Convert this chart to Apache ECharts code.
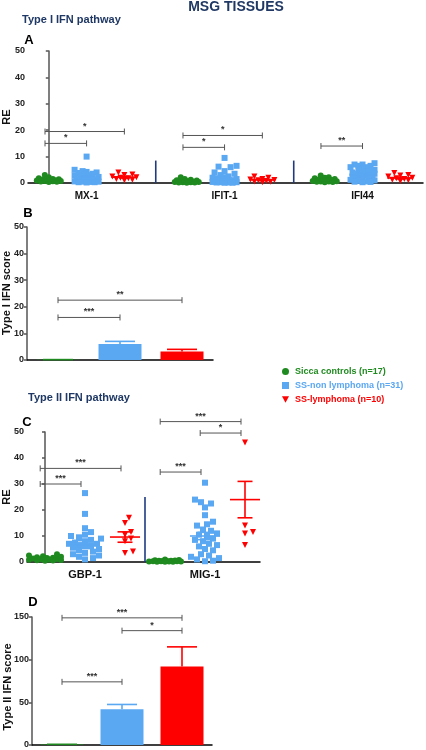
<!DOCTYPE html>
<html><head><meta charset="utf-8">
<script src="https://cdn.jsdelivr.net/npm/echarts@6/dist/echarts.min.js"></script>
<style>html,body{margin:0;padding:0;background:#fff}#c{width:426px;height:750px}</style>
</head><body><div id="c"></div>
<script>
// ---------- DATA ----------
const groupNames = ['Sicca controls (n=17)', 'SS-non lymphoma (n=31)', 'SS-lymphoma (n=10)'];
const genesA = ['MX-1', 'IFIT-1', 'IFI44'];
const genesC = ['GBP-1', 'MIG-1'];
const yTicksA = [0, 10, 20, 30, 40, 50];
const yTicksD = [0, 50, 100, 150];

// Panel A (RE), per gene: sicca, non-lymphoma, lymphoma
const mx1Sicca = [3, 2.2, 1.8, 1.5, 1.4, 1.3, 1.2, 1.1, 1.0, 1.0, 0.9, 0.8, 0.8, 0.7, 0.6, 0.5, 0.4];
const mx1NonLymph = [10, 5, 4.5, 4.2, 4, 3.8, 3.5, 3.2, 3, 2.8, 2.5, 2.3, 2, 1.8, 1.6, 1.5, 1.4, 1.3, 1.2, 1.1, 1, 0.9, 0.8, 0.7, 0.6, 0.5, 0.5, 0.4, 0.3, 0.3, 0.2];
const mx1Lymph = [4, 3.2, 3, 2.5, 2.2, 2, 1.8, 1.5, 1.2, 1];
const ifit1Sicca = [2.2, 1.5, 1.2, 1, 0.9, 0.8, 0.7, 0.6, 0.5, 0.5, 0.4, 0.4, 0.3, 0.3, 0.2, 0.2, 0.1];
const ifit1NonLymph = [9.5, 6.5, 6.2, 6, 4.5, 4, 3.5, 3, 2.5, 2.2, 2, 1.8, 1.5, 1.3, 1.2, 1, 1, 0.9, 0.8, 0.7, 0.6, 0.5, 0.5, 0.4, 0.4, 0.3, 0.3, 0.2, 0.2, 0.1, 0.1];
const ifit1Lymph = [2.5, 2, 1.5, 1.3, 1.1, 1, 0.8, 0.6, 0.5, 0.3];
const ifi44Sicca = [2.8, 2.2, 2, 1.8, 1.5, 1.3, 1.2, 1.1, 1, 0.9, 0.8, 0.7, 0.6, 0.6, 0.5, 0.4, 0.3];
const ifi44NonLymph = [7.5, 7, 7, 6.5, 6.5, 6, 6, 5.5, 5, 5, 4.5, 4.5, 4, 4, 3.5, 3.5, 3, 3, 2.8, 2.5, 2.2, 2, 1.8, 1.5, 1.2, 1, 0.8, 0.6, 0.5, 0.4, 0.3];
const ifi44Lymph = [3.8, 3, 2.8, 2.5, 2, 1.8, 1.5, 1.2, 1, 0.8];
const meansA = [[1.2, 2.2, 2.2], [0.7, 1.8, 1.2], [1.1, 3.0, 1.9]];
const semsA = [[0.2, 0.4, 0.3], [0.15, 0.4, 0.25], [0.2, 0.4, 0.35]];
const bracketsA = [ // [gene, fromGroup, toGroup, y, label]
  [0, 0, 1, 15, '*'], [0, 0, 2, 19.5, '*'],
  [1, 0, 1, 13.5, '*'], [1, 0, 2, 18, '*'],
  [2, 0, 1, 14, '**']
];
const sepHeightA = 8.5;

// Panel B (Type I IFN score)
const scoreI = [0.1, 6.0, 3.2];
const scoreIErr = [0.05, 1.0, 0.8];
const bracketsB = [[0, 1, 16, '***'], [0, 2, 22.5, '**']];

// Panel C (RE)
const gbp1Sicca = [3, 2.5, 2.2, 2, 1.8, 1.6, 1.5, 1.4, 1.3, 1.2, 1.1, 1, 0.9, 0.8, 0.7, 0.6, 0.5];
const gbp1NonLymph = [26.5, 18.5, 13, 11.5, 10.5, 10, 9.5, 9, 8.5, 8, 7.5, 7, 7, 6.5, 6, 6, 5.5, 5, 4.5, 4, 3.5, 3, 2.5, 2, 1.5, 1];
const gbp1Lymph = [17, 15, 11.5, 10.5, 9, 8, 4, 3.5];
const mig1Sicca = [1, 0.8, 0.7, 0.6, 0.5, 0.5, 0.4, 0.4, 0.3, 0.3, 0.3, 0.2, 0.2, 0.2, 0.1, 0.1, 0.1];
const mig1NonLymph = [30.5, 24, 23, 22.5, 21, 18, 15.5, 14.5, 14, 12.5, 12, 11, 10.5, 10, 9, 8.5, 8, 7, 6.5, 6, 5, 4.5, 3, 2.5, 2, 1.5, 1, 0.5, 0.3];
const mig1Lymph = [46, 14, 11.5, 11, 6.5];
const meansC = [[1.5, 7.2, 9.6], [0.4, 10.0, 24.0]];
const semsC = [[0.2, 1.0, 2.0], [0.1, 1.4, 7.0]];
const bracketsC = [
  [0, 0, 1, 30, '***'], [0, 0, 2, 36, '***'],
  [1, 0, 1, 34.6, '***'], [1, 0, 2, 54, '***'], [1, 1, 2, 49.6, '*']
];
const sepHeightC = 25;

// Panel D (Type II IFN score)
const scoreII = [0.6, 42, 92];
const scoreIIErr = [0.2, 5.5, 23];
const bracketsD = [[-0.15, 2, 149, '***'], [1, 2, 134, '*'], [-0.12, 1, 74, '***']];

// ---------- LAYOUT / STYLE ----------
const FONT = '"Liberation Sans", Arial, sans-serif';
const colors = ['#1f8a1f', '#5aa7f2', '#ff0000'];
const symbols = ['circle', 'rect', 'triangle'];
const symSize = [6, 6, 6];
const navy = '#1f3864';
const brkColor = '#555';

const valsA = [[mx1Sicca, mx1NonLymph, mx1Lymph], [ifit1Sicca, ifit1NonLymph, ifit1Lymph], [ifi44Sicca, ifi44NonLymph, ifi44Lymph]];
const valsC = [[gbp1Sicca, gbp1NonLymph, gbp1Lymph], [mig1Sicca, mig1NonLymph, mig1Lymph]];

const GA = {left: 28, top: 51, width: 395, height: 132, xmin: -0.55, xmax: 9.9, ymax: 50, step: 3.65};
const GB = {left: 27, top: 227, width: 186, height: 133};
const GC = {left: 27, top: 432, width: 233, height: 130, xmin: -0.45, xmax: 5.375, ymax: 50, step: 3};
const GD = {left: 32, top: 617, width: 180, height: 128};

function posA(g, k) { return g * GA.step + k; }
function posC(g, k) { return g * GC.step + k; }

// beeswarm layout (deterministic) : returns x offsets in axis units
function swarm(values, pxY, pxX, diam, maxHalf) {
  const order = values.map((v, i) => i).sort((a, b) => values[a] - values[b]);
  const placed = [];
  const off = new Array(values.length).fill(0);
  const cands = [0];
  for (let s = 2; s <= maxHalf; s += 2) { cands.push(s, -s); }
  order.forEach(i => {
    const y = values[i] * pxY;
    let best = 0, bestD = -1;
    for (const c of cands) {
      let minD = Infinity;
      for (const p of placed) {
        const d = Math.hypot(p[0] - c, p[1] - y);
        if (d < minD) minD = d;
      }
      if (minD >= diam) { best = c; bestD = Infinity; break; }
      if (minD > bestD + 0.5) { bestD = minD; best = c; }
    }
    placed.push([best, y]);
    off[i] = best / pxX;
  });
  return off;
}

const series = [];
function addScatter(vals, pos, G, xi, maxHalf) {
  const pxY = G.height / G.ymax;
  const pxX = G.width / (G.xmax - G.xmin);
  vals.forEach((grp, g) => grp.forEach((arr, k) => {
    const off = swarm(arr, pxY, pxX, symSize[k] + 0.5, maxHalf);
    series.push({
      type: 'scatter', name: groupNames[k], xAxisIndex: xi, yAxisIndex: xi,
      symbol: symbols[k], symbolSize: symSize[k], symbolRotate: k === 2 ? 180 : 0,
      itemStyle: {color: colors[k], opacity: 1},
      data: arr.map((v, i) => [pos(g, k) + off[i], v]), silent: true, z: 3
    });
  }));
}
addScatter(valsA, posA, GA, 0, 12);
addScatter(valsC, posC, GC, 2, 16);

// mean +/- SEM lines
function addMeans(means, sems, pos, xi, meanW, capW) {
  const data = [];
  means.forEach((row, g) => row.forEach((m, k) => data.push([pos(g, k), m, sems[g][k], k])));
  series.push({
    type: 'custom', xAxisIndex: xi, yAxisIndex: xi, clip: false, silent: true, z: 5,
    data: data,
    renderItem: (p, api) => {
      const d = data[p.dataIndex];
      const c = api.coord([d[0], d[1]]);
      const t = api.coord([d[0], d[1] + d[2]]);
      const b = api.coord([d[0], d[1] - d[2]]);
      const st = {stroke: colors[d[3]], lineWidth: 1.6};
      return {type: 'group', children: [
        {type: 'line', shape: {x1: c[0] - meanW / 2, y1: c[1], x2: c[0] + meanW / 2, y2: c[1]}, style: st},
        {type: 'line', shape: {x1: c[0], y1: t[1], x2: c[0], y2: b[1]}, style: st},
        {type: 'line', shape: {x1: c[0] - capW / 2, y1: t[1], x2: c[0] + capW / 2, y2: t[1]}, style: st},
        {type: 'line', shape: {x1: c[0] - capW / 2, y1: b[1], x2: c[0] + capW / 2, y2: b[1]}, style: st}
      ]};
    }
  });
}
addMeans(meansA, semsA, posA, 0, 26, 10);
addMeans(meansC, semsC, posC, 2, 30, 15);

// significance brackets
function addBrackets(items, xi) {
  series.push({
    type: 'custom', xAxisIndex: xi, yAxisIndex: xi, clip: false, silent: true, z: 4,
    data: items.map(b => [b[0], b[2]]),
    renderItem: (p, api) => {
      const b = items[p.dataIndex];
      const a = api.coord([b[0], b[2]]);
      const e = api.coord([b[1], b[2]]);
      const st = {stroke: brkColor, lineWidth: 1};
      return {type: 'group', children: [
        {type: 'line', shape: {x1: a[0], y1: a[1], x2: e[0], y2: e[1]}, style: st},
        {type: 'line', shape: {x1: a[0], y1: a[1] - 3, x2: a[0], y2: a[1] + 3}, style: st},
        {type: 'line', shape: {x1: e[0], y1: e[1] - 3, x2: e[0], y2: e[1] + 3}, style: st},
        {type: 'text', x: (a[0] + e[0]) / 2, y: a[1] - 1, style: {text: b[3], fill: '#333', font: 'bold 9px ' + FONT, textAlign: 'center', textVerticalAlign: 'bottom'}}
      ]};
    }
  });
}
addBrackets(bracketsA.map(b => [posA(b[0], b[1]) - 0.1, posA(b[0], b[2]), b[3], b[4]]), 0);
addBrackets(bracketsB, 1);
addBrackets(bracketsC.map(b => [posC(b[0], b[1]) - 0.12, posC(b[0], b[2]) - 0.1, b[3], b[4]]), 2);
addBrackets(bracketsD, 3);

// separators and gene labels
function addSepLabels(genes, pos, sepX, sepH, xi, font) {
  series.push({
    type: 'custom', xAxisIndex: xi, yAxisIndex: xi, clip: false, silent: true, z: 4,
    data: sepX.map(x => [x, sepH]),
    renderItem: (p, api) => {
      const a = api.coord([sepX[p.dataIndex], 0]);
      const e = api.coord([sepX[p.dataIndex], sepH]);
      return {type: 'line', shape: {x1: a[0], y1: a[1], x2: e[0], y2: e[1]}, style: {stroke: '#1f3a80', lineWidth: 1.6}};
    }
  });
  series.push({
    type: 'custom', xAxisIndex: xi, yAxisIndex: xi, clip: false, silent: true,
    data: genes.map((g, i) => [pos(i, 1), 0]),
    renderItem: (p, api) => {
      const a = api.coord([pos(p.dataIndex, 1), 0]);
      return {type: 'text', x: a[0], y: a[1] + 13, style: {text: genes[p.dataIndex], fill: '#111', font: font, textAlign: 'center', textVerticalAlign: 'middle'}};
    }
  });
}
addSepLabels(genesA, posA, [posA(0, 2) + 0.83, posA(1, 2) + 0.83], sepHeightA, 0, 'bold 10px ' + FONT);
addSepLabels(genesC, posC, [2.5], sepHeightC, 2, 'bold 11px ' + FONT);

// bars with upward error bars
function addBars(vals, errs, xi) {
  series.push({
    type: 'bar', xAxisIndex: xi, yAxisIndex: xi, barWidth: 43, silent: true,
    data: vals.map((v, i) => ({value: v, itemStyle: {color: colors[i]}}))
  });
  series.push({
    type: 'custom', xAxisIndex: xi, yAxisIndex: xi, clip: false, silent: true, z: 3,
    data: vals.map((v, i) => [i, v]),
    renderItem: (p, api) => {
      const i = p.dataIndex;
      const b = api.coord([i, vals[i]]);
      const t = api.coord([i, vals[i] + errs[i]]);
      const st = {stroke: colors[i], lineWidth: 1.6};
      return {type: 'group', children: [
        {type: 'line', shape: {x1: b[0], y1: b[1], x2: t[0], y2: t[1]}, style: st},
        {type: 'line', shape: {x1: t[0] - 15, y1: t[1], x2: t[0] + 15, y2: t[1]}, style: st}
      ]};
    }
  });
}
addBars(scoreI, scoreIErr, 1);
addBars(scoreII, scoreIIErr, 3);

// ---------- AXES ----------
const yLab = {fontFamily: FONT, fontWeight: 'bold', fontSize: 9, color: '#222', margin: 3};
function yAx(gi, max, ticks) {
  return {
    type: 'value', gridIndex: gi, min: 0, max: max, interval: ticks[1] - ticks[0],
    splitLine: {show: false},
    axisLine: {show: true, lineStyle: {color: '#555', width: 1.5}},
    axisTick: {show: true, length: 3, lineStyle: {color: '#555', width: 1.5}},
    axisLabel: yLab
  };
}
const xLine = {show: true, onZero: true, lineStyle: {color: '#000', width: 1.5}};
const xAxes = [
  {type: 'value', gridIndex: 0, min: GA.xmin, max: GA.xmax, axisLine: xLine, axisTick: {show: false}, axisLabel: {show: false}, splitLine: {show: false}},
  {type: 'category', gridIndex: 1, data: groupNames, axisLine: xLine, axisTick: {show: false}, axisLabel: {show: false}},
  {type: 'value', gridIndex: 2, min: GC.xmin, max: GC.xmax, axisLine: xLine, axisTick: {show: false}, axisLabel: {show: false}, splitLine: {show: false}},
  {type: 'category', gridIndex: 3, data: groupNames, axisLine: xLine, axisTick: {show: false}, axisLabel: {show: false}}
];
const yAxes = [yAx(0, 50, yTicksA), yAx(1, 50, yTicksA), yAx(2, 50, yTicksA), yAx(3, 150, yTicksD)];

function txt(x, y, s, font, color, align, rot) {
  return {type: 'text', x: x, y: y, rotation: rot || 0, silent: true,
    style: {text: s, font: font, fill: color || '#000', textAlign: align || 'center', textVerticalAlign: 'middle'}};
}
const graphics = [
  txt(236, 7, 'MSG TISSUES', 'bold 14px ' + FONT, navy),
  txt(22, 20, 'Type I IFN pathway', 'bold 11px ' + FONT, navy, 'left'),
  txt(29, 40, 'A', 'bold 13px ' + FONT, '#000'),
  txt(28, 213, 'B', 'bold 13px ' + FONT, '#000'),
  txt(28, 398, 'Type II IFN pathway', 'bold 11px ' + FONT, navy, 'left'),
  txt(27, 422, 'C', 'bold 13px ' + FONT, '#000'),
  txt(33, 602, 'D', 'bold 13px ' + FONT, '#000'),
  txt(7, 117, 'RE', 'bold 11px ' + FONT, '#111', 'center', Math.PI / 2),
  txt(7, 293, 'Type I IFN score', 'bold 11px ' + FONT, '#111', 'center', Math.PI / 2),
  txt(7, 497, 'RE', 'bold 11px ' + FONT, '#111', 'center', Math.PI / 2),
  txt(8, 687, 'Type II IFN score', 'bold 11px ' + FONT, '#111', 'center', Math.PI / 2)
];

const chart = echarts.init(document.getElementById('c'), null, {renderer: 'canvas'});
chart.setOption({
  animation: false,
  backgroundColor: '#fff',
  grid: [GA, GB, GC, GD].map(g => ({left: g.left, top: g.top, width: g.width, height: g.height})),
  xAxis: xAxes,
  yAxis: yAxes,
  legend: {
    orient: 'vertical', left: 277, top: 362, itemWidth: 7, itemHeight: 7, itemGap: 5,
    selectedMode: false,
    textStyle: {fontFamily: FONT, fontWeight: 'bold', fontSize: 9, padding: [0, 0, 0, 1]},
    data: groupNames.map((n, i) => ({
      name: n,
      icon: i === 2 ? 'path://M0,0L10,0L5,9Z' : symbols[i],
      textStyle: {color: colors[i]}
    }))
  },
  graphic: graphics,
  series: series
});
</script>
</body></html>
